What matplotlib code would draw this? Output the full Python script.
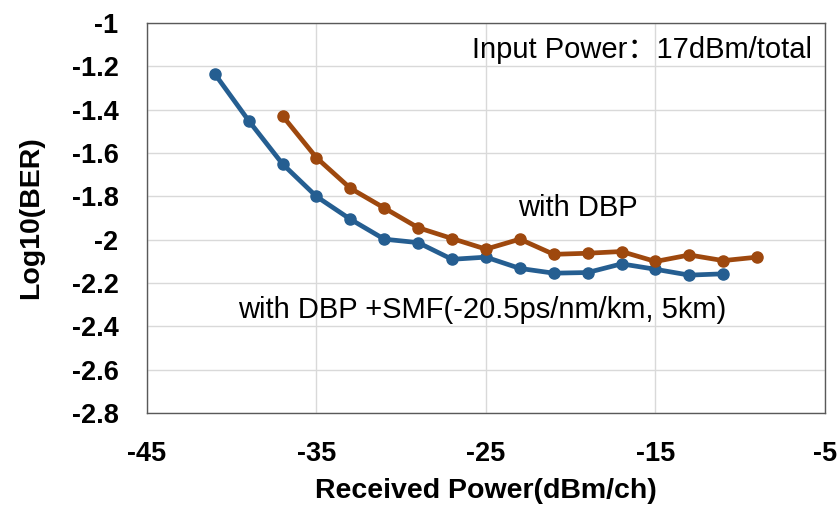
import numpy as np
import matplotlib.pyplot as plt

plt.rcParams['font.family'] = ['Liberation Sans', 'Noto Sans CJK SC', 'DejaVu Sans']

## 数据
x_smf = [-41, -39, -37, -35, -33, -31, -29, -27, -25, -23, -21, -19, -17, -15, -13, -11]
y_smf = [-1.235, -1.451, -1.651, -1.801, -1.906, -1.998, -2.014, -2.091, -2.081,
         -2.133, -2.155, -2.152, -2.112, -2.137, -2.164, -2.158]

x_dbp = [-37, -35, -33, -31, -29, -27, -25, -23, -21, -19, -17, -15, -13, -11, -9]
y_dbp = [-1.429, -1.622, -1.763, -1.854, -1.945, -1.995, -2.044, -1.998,
         -2.068, -2.063, -2.055, -2.101, -2.071, -2.097, -2.081]

xticks = [-45, -35, -25, -15, -5]
yticks = [-2.8, -2.6, -2.4, -2.2, -2, -1.8, -1.6, -1.4, -1.2, -1]

fig = plt.figure(figsize=(8.4, 5.11), dpi=100)
ax = fig.add_axes([0.175, 0.192, 0.807, 0.763])

ax.plot(x_smf, y_smf, color='#255E91', lw=3.4, marker='o', ms=8, zorder=3)
ax.plot(x_dbp, y_dbp, color='#9E480E', lw=3.4, marker='o', ms=8, zorder=3)

ax.set_xlim(-45, -5)
ax.set_ylim(-2.8, -1)
ax.set_xticks(xticks)
ax.set_yticks(yticks)
ax.set_xticklabels([str(v) for v in xticks], fontsize=19.5, fontweight='bold')
ax.set_yticklabels(['%g' % v for v in yticks], fontsize=19.5, fontweight='bold')
ax.tick_params(axis='y', length=0, pad=20.5)
ax.tick_params(axis='x', length=0, pad=20)
ax.grid(True, color='#D9D9D9', lw=1)
ax.set_axisbelow(True)
for s in ax.spines.values():
    s.set_color('#595959')
    s.set_linewidth(1)

ax.set_xlabel('Received Power(dBm/ch)', fontsize=20.5, fontweight='bold', labelpad=8)
ax.set_ylabel('Log10(BER)', fontsize=20.5, fontweight='bold', labelpad=20)

ax.text(0.981, 0.931, 'Input Power：17dBm/total', transform=ax.transAxes,
        ha='right', va='center', fontsize=21)
ax.text(-19.6, -1.854, 'with DBP', ha='center', va='center', fontsize=21)
ax.text(-25.2, -2.324, 'with DBP +SMF(-20.5ps/nm/km, 5km)', ha='center', va='center', fontsize=21)

fig.savefig('out.png', dpi=100)
